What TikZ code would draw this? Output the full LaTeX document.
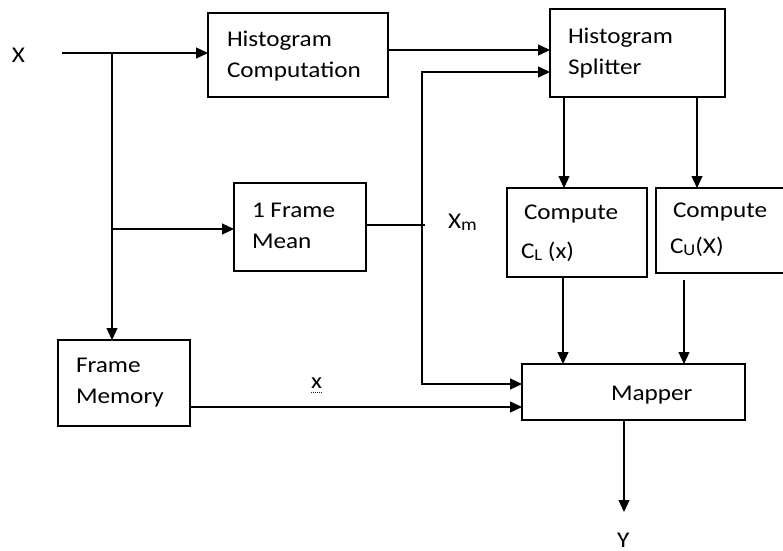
\documentclass[tikz,border=0pt]{standalone}
\usepackage{fontspec}
\setmainfont[FakeStretch=1.12]{Carlito}
\usetikzlibrary{arrows.meta}
\newcommand{\mysub}[1]{\raisebox{-2pt}{\fontsize{16.5}{16.5}\selectfont #1}}
\tikzset{
  box/.style={draw, line width=1.2pt, inner sep=0pt, outer sep=0pt},
  txt/.style={anchor=base west, inner sep=0pt, outer sep=0pt, font=\fontsize{22.5}{27}\selectfont},
  conn/.style={line width=1.2pt},
  arr/.style={conn, -{Triangle[length=12pt,width=11pt]}}
}
\begin{document}
\begin{tikzpicture}[x=1pt,y=-1pt]
\clip (0,0) rectangle (783,550);
\fill[white] (0,0) rectangle (783,550);
% boxes
\node[box, minimum width=180pt, minimum height=84pt] (hc) at (298,55) {};
\node[box, minimum width=175pt, minimum height=88pt] (hs) at (637.5,53) {};
\node[box, minimum width=132pt, minimum height=88pt] (fm) at (300,227) {};
\node[box, minimum width=132pt, minimum height=86pt] (mem) at (124,383) {};
\node[box, minimum width=140pt, minimum height=89pt] (cl) at (577,232.5) {};
\node[box, minimum width=136pt, minimum height=85pt] (cu) at (724,230.5) {};
\node[box, minimum width=223pt, minimum height=56pt] (map) at (633.5,392) {};
% box texts
\node[txt] (hc1) at (227,46) {Histogram};
\node[txt] (hc2) at (227,77) {Computation};
\node[txt] (hs1) at (568,43) {Histogram};
\node[txt] (hs2) at (568,74) {Splitter};
\node[txt] (fm1) at (252,217) {1 Frame};
\node[txt] (fm2) at (252,248) {Mean};
\node[txt] (mem1) at (76,372) {Frame};
\node[txt] (mem2) at (76,403) {Memory};
\node[txt] (cl1) at (524,219) {Compute};
\node[txt] (cl2) at (521,258) {C\mysub{L} (x)};
\node[txt] (cu1) at (673,217) {Compute};
\node[txt] (cu2) at (670,253) {C\mysub{U}(X)};
\node[txt] (mapt) at (611,400) {Mapper};
% labels
\node[txt] (lx) at (12,62) {X};
\node[txt] (lxm) at (448,228) {X\raisebox{-2pt}{\fontsize{17.5}{17.5}\selectfont m}};
\node[txt] (lsx) at (311,388) {x};
\draw[blue, densely dotted, line width=1pt] (311,392) -- (323,392);
\node[txt] (ly) at (617,547) {Y};
% junction coordinates
\coordinate (in) at (62,53);
\coordinate (j1) at (112,53);
\coordinate (j2) at (112,229);
\coordinate (vt) at (422,72);
\coordinate (vm) at (422,225);
\coordinate (vb) at (422,384);
\coordinate (yend) at (624,512);
% connectors
\draw[arr] (in) -- (hc.west |- in);
\draw[arr] (j1) -- (mem.north -| j1);
\draw[arr] (j2) -- (fm.west |- j2);
\draw[arr] (hc.east |- 0,50) -- (hs.west |- 0,50);
\draw[conn] (fm.east |- vm) -- ([xshift=3pt]vm);
\draw[conn] (vb) -- (vt);
\draw[arr] ([xshift=-0.6pt]vt) -- (hs.west |- vt);
\draw[arr] ([xshift=-0.6pt]vb) -- (map.west |- vb);
\draw[arr] (mem.east |- 0,407) -- (map.west |- 0,407);
\draw[arr] (hs.south -| 564,0) -- (cl.north -| 564,0);
\draw[arr] (hs.south -| 697,0) -- (cu.north -| 697,0);
\draw[arr] (cl.south -| 563,0) -- (map.north -| 563,0);
\draw[arr, shorten <=7pt] (cu.south -| 684,0) -- (map.north -| 684,0);
\draw[arr] (map.south -| yend) -- (yend);
\end{tikzpicture}
\end{document}
